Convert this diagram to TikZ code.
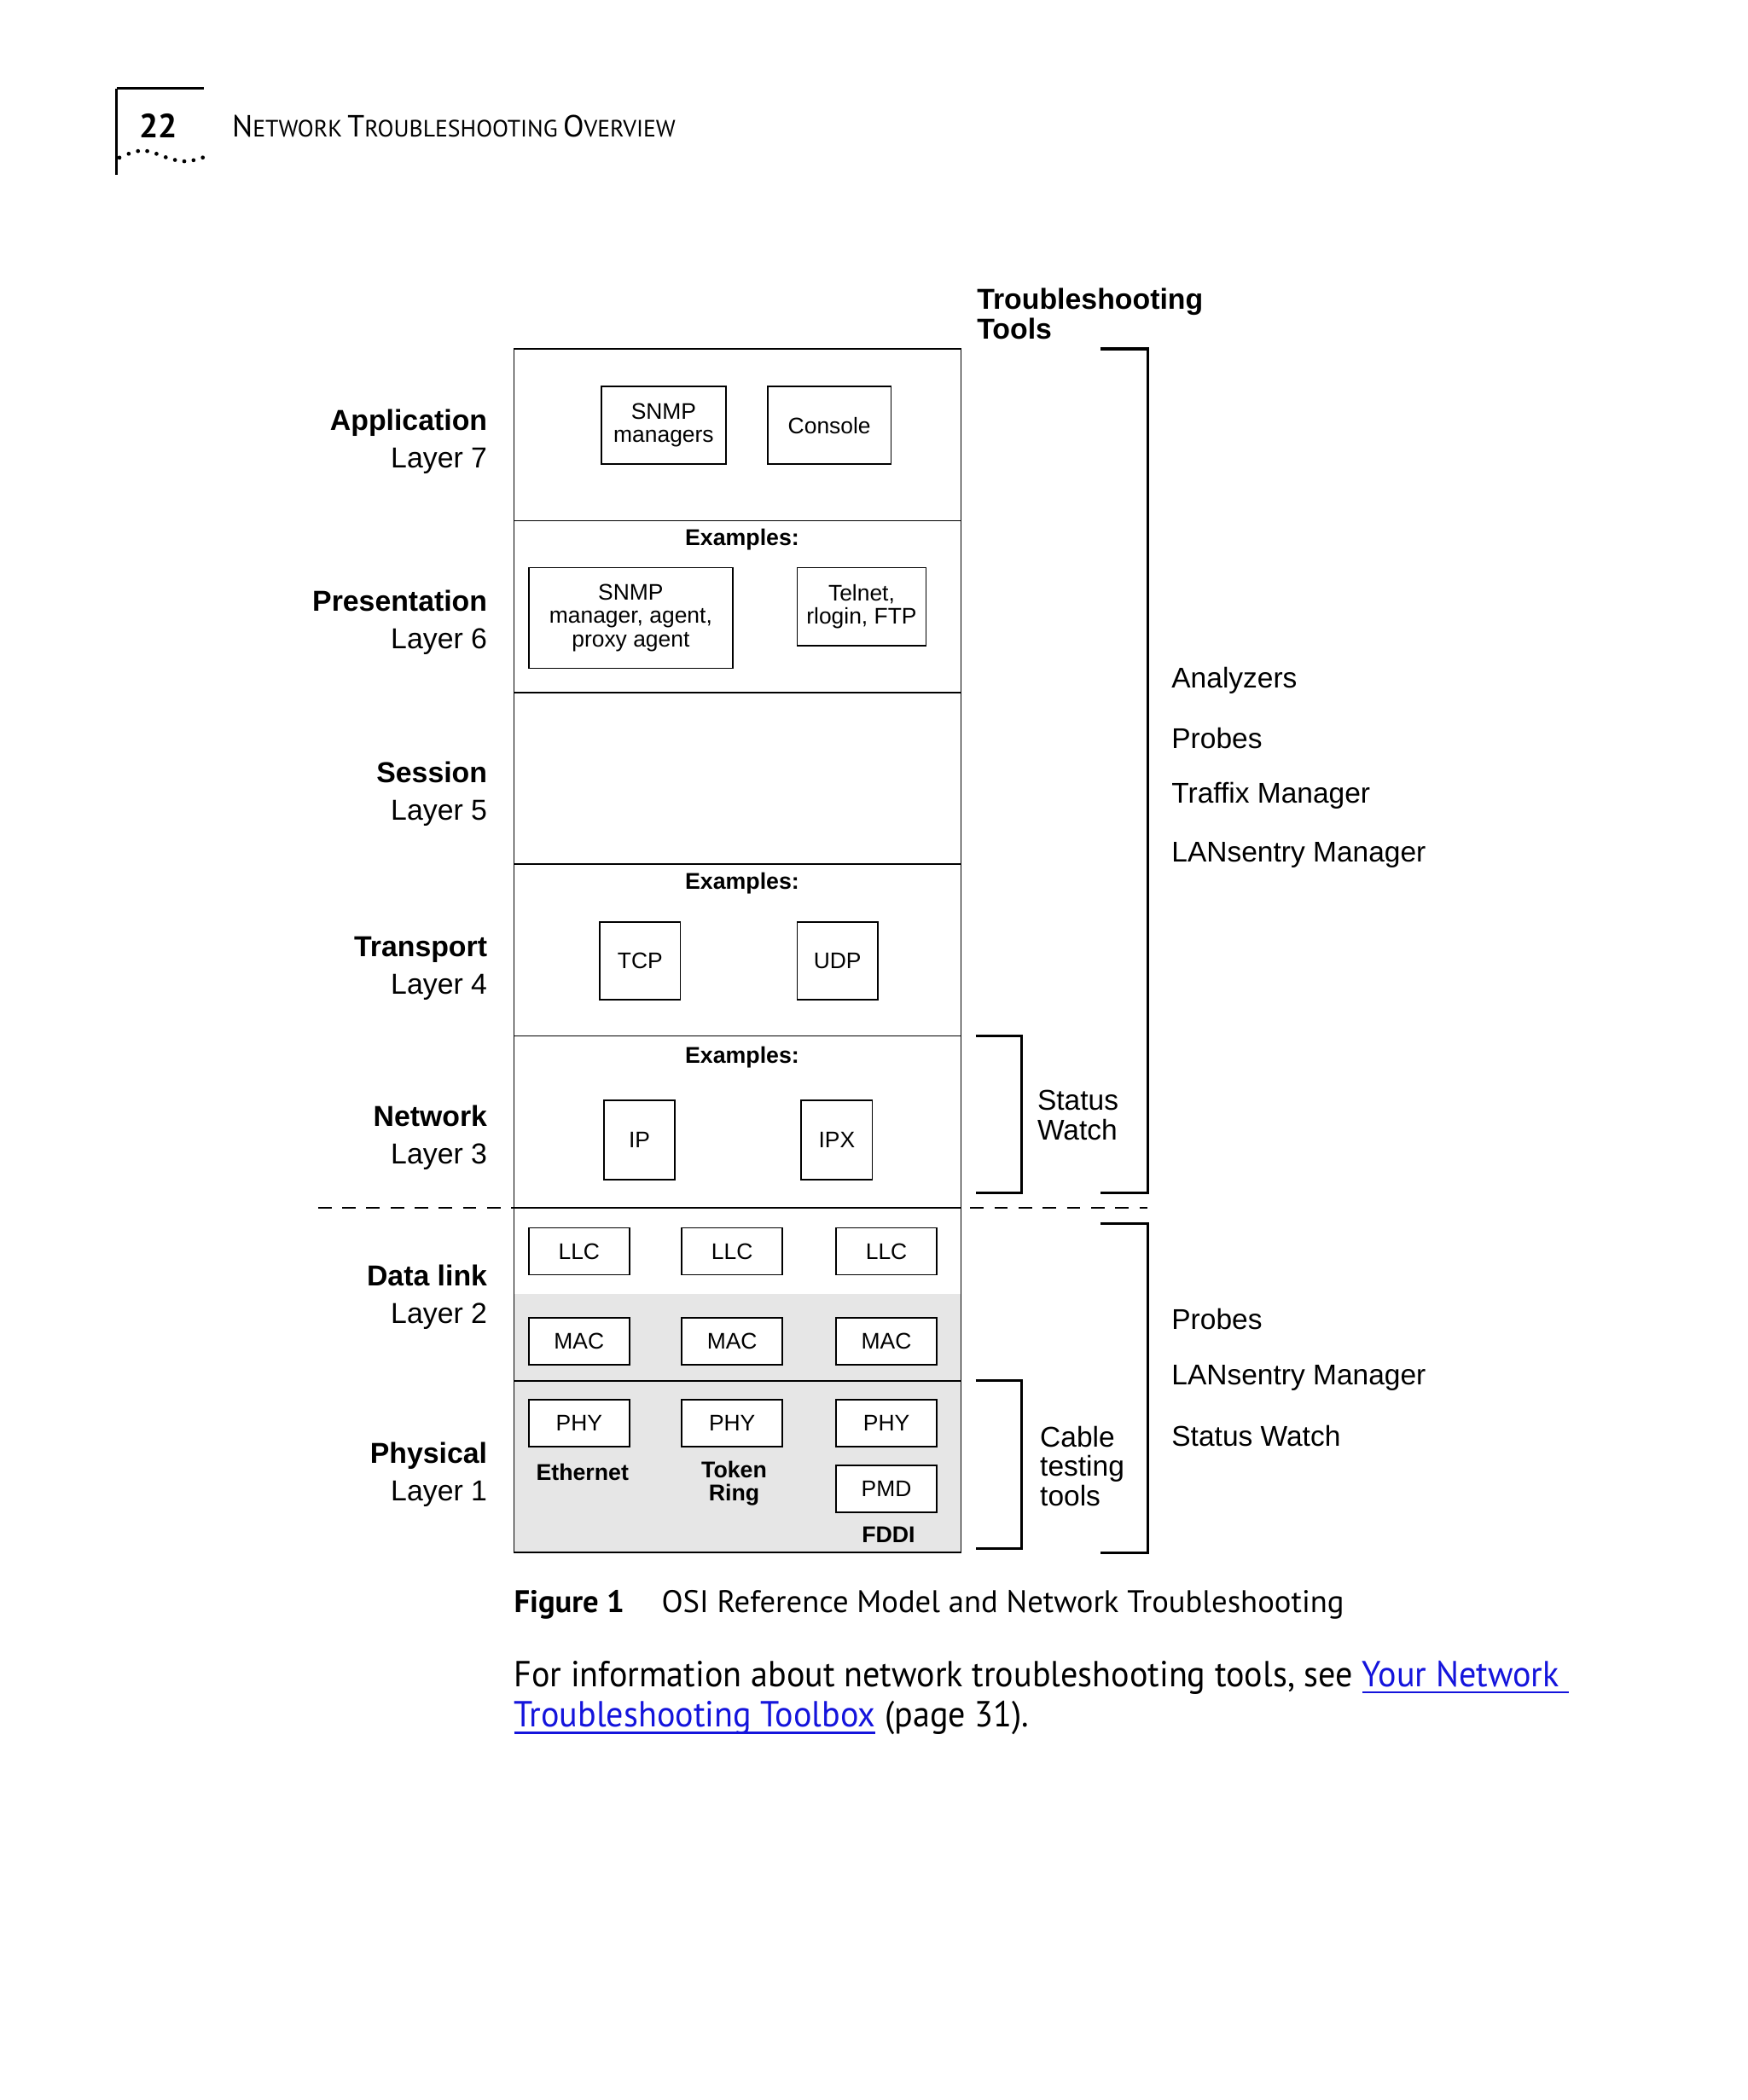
\documentclass[tikz,border=0pt]{standalone}
\usepackage{fontspec}
\setmainfont{Liberation Sans}
\newfontfamily\frut{PT Sans}
\newfontfamily\frutb[FakeStretch=0.945]{PT Sans}
\definecolor{greyfill}{RGB}{230,230,230}
\definecolor{linkblue}{RGB}{20,20,220}
\newcommand\hsc[2]{{\fontsize{22.8}{24}\selectfont #1}{\fontsize{17.6}{18}\selectfont #2}}
\newcommand\lnk[1]{\setbox0\hbox{#1}\rlap{\rule[-5pt]{\wd0}{1.6pt}}\box0}
\begin{document}
\begin{tikzpicture}[x=1pt,y=-1pt,
  every node/.style={inner sep=0pt, outer sep=0pt},
  lbl/.style={font=\fontsize{21.5}{28}\selectfont, align=right, anchor=east},
  tool/.style={font=\fontsize{21.3}{22}\selectfont, anchor=west, align=left},
  box/.style={draw, line width=1.1pt, fill=white, align=center, font=\fontsize{16.8}{17.5}\selectfont},
  layer/.style={draw, line width=1.1pt},
  ex/.style={font=\bfseries\fontsize{17}{17.5}\selectfont, align=center},
  brk/.style={line width=2pt}]
\useasboundingbox (0,0) rectangle (1302,1565);
\fill[white] (0,0) rectangle (1302,1565);

% header
\draw[line width=2pt] (87,66) -- (152,66);
\draw[line width=2pt] (87,66) -- (87,130);
\node (pg) at (118,94) {\frut\bfseries\fontsize{25}{25}\selectfont 22};
\node[anchor=west] (title) at (173,94) {\frut\hsc{N}{ETWORK}\hspace{4pt}\hsc{T}{ROUBLESHOOTING}\hspace{4pt}\hsc{O}{VERVIEW}};
\foreach \px/\py in {89/117.5, 95.9/114.6, 102.8/112.6, 109.7/112.6, 116.6/114.6, 123.5/117.2, 130.4/119.2, 137.3/120.2, 144.2/119.4, 151.1/117.4}
  \fill (\px,\py) circle (1.5);

% grey areas
\fill[greyfill] (383,964) rectangle (716,1157);

% layers
\node[layer, minimum width=333, minimum height=128] (L7) at (549.5,324) {};
\node[layer, minimum width=333, minimum height=128] (L6) at (549.5,452) {};
\node[layer, minimum width=333, minimum height=128] (L5) at (549.5,580) {};
\node[layer, minimum width=333, minimum height=128] (L4) at (549.5,708) {};
\node[layer, minimum width=333, minimum height=128] (L3) at (549.5,836) {};
\node[layer, minimum width=333, minimum height=129] (L2) at (549.5,964.5) {};
\node[layer, minimum width=333, minimum height=128] (L1) at (549.5,1093) {};

% dashed separator
\coordinate (dl) at (237,900);
\coordinate (dr) at (855,900);
\draw[line width=1.6pt, dash pattern=on 10pt off 8pt] (dl) -- (dr);

% layer 7
\node[box, minimum width=93, minimum height=58] (snmpm) at (494.5,317) {SNMP\\managers};
\node[box, minimum width=92, minimum height=58] (cons) at (618,317) {Console};
% layer 6
\node[ex] (ex6) at (553,402) {Examples:};
\node[box, minimum width=152, minimum height=75] (snmpa) at (470,460.5) {SNMP\\manager, agent,\\proxy agent};
\node[box, minimum width=96, minimum height=58] (tel) at (642,452) {Telnet,\\rlogin, FTP};
% layer 4
\node[ex] (ex4) at (553,658) {Examples:};
\node[box, minimum width=60, minimum height=58] (tcp) at (477,716) {TCP};
\node[box, minimum width=60, minimum height=58] (udp) at (624,716) {UDP};
% layer 3
\node[ex] (ex3) at (553,788) {Examples:};
\node[box, minimum width=53, minimum height=59] (ip) at (476.5,849.5) {IP};
\node[box, minimum width=53, minimum height=59] (ipx) at (623.5,849.5) {IPX};
% layer 2
\node[box, minimum width=75, minimum height=35] (llc1) at (431.5,932.5) {LLC};
\node[box, minimum width=75, minimum height=35] (llc2) at (545.5,932.5) {LLC};
\node[box, minimum width=75, minimum height=35] (llc3) at (660.5,932.5) {LLC};
\node[box, minimum width=75, minimum height=35] (mac1) at (431.5,999.5) {MAC};
\node[box, minimum width=75, minimum height=35] (mac2) at (545.5,999.5) {MAC};
\node[box, minimum width=75, minimum height=35] (mac3) at (660.5,999.5) {MAC};
% layer 1
\node[box, minimum width=75, minimum height=35] (phy1) at (431.5,1060.5) {PHY};
\node[box, minimum width=75, minimum height=35] (phy2) at (545.5,1060.5) {PHY};
\node[box, minimum width=75, minimum height=35] (phy3) at (660.5,1060.5) {PHY};
\node[box, minimum width=75, minimum height=35] (pmd) at (660.5,1109.5) {PMD};
\node[ex] (eth) at (434,1097) {Ethernet};
\node[ex] (tr) at (547,1105.5) {Token\\Ring};
\node[ex] (fddi) at (662,1144) {FDDI};

% left labels
\node[lbl] (n7) at (363,329) {\textbf{Application}\\Layer 7};
\node[lbl] (n6) at (363,464) {\textbf{Presentation}\\Layer 6};
\node[lbl] (n5) at (363,591.5) {\textbf{Session}\\Layer 5};
\node[lbl] (n4) at (363,721.5) {\textbf{Transport}\\Layer 4};
\node[lbl] (n3) at (363,848) {\textbf{Network}\\Layer 3};
\node[lbl] (n2) at (363,966.5) {\textbf{Data link}\\Layer 2};
\node[lbl] (n1) at (363,1099) {\textbf{Physical}\\Layer 1};

% brackets
\draw[brk] (820,260) -| (855,889) -- (820,889);
\draw[brk] (727,772) -| (761,889) -- (727,889);
\draw[brk] (820,912) -| (855,1157) -- (820,1157);
\draw[brk] (727,1029) -| (761,1154) -- (727,1154);

% tool texts
\node[tool, font=\bfseries\fontsize{21.5}{22}\selectfont] (tt) at (728,234) {Troubleshooting\\Tools};
\node[tool] (an) at (873,507) {Analyzers};
\node[tool] (pr) at (873,550) {Probes};
\node[tool] (tm) at (873,593) {Traffix Manager};
\node[tool] (lm) at (873,637) {LANsentry Manager};
\node[tool] (sw) at (773,831) {Status\\Watch};
\node[tool] (pr2) at (873,983) {Probes};
\node[tool] (lm2) at (873,1027) {LANsentry Manager};
\node[tool] (sw2) at (873,1070) {Status Watch};
\node[tool] (ct) at (775,1092.5) {Cable\\testing\\tools};

% caption
\node[anchor=base west] (fig) at (383,1202) {\frut\bfseries\fontsize{23.3}{24}\selectfont Figure 1};
\node[anchor=base west] (cap) at (493,1202) {\frut\fontsize{23.3}{24}\selectfont OSI Reference Model and Network Troubleshooting};
\node[anchor=base west] (b1) at (383,1257) {\frutb\fontsize{27}{27}\selectfont For information about network troubleshooting tools, see \textcolor{linkblue}{\lnk{Your Network\ }}};
\node[anchor=base west] (b2) at (383,1287) {\frutb\fontsize{27}{27}\selectfont \textcolor{linkblue}{\lnk{Troubleshooting Toolbox}} (page 31).};
\end{tikzpicture}
\end{document}
